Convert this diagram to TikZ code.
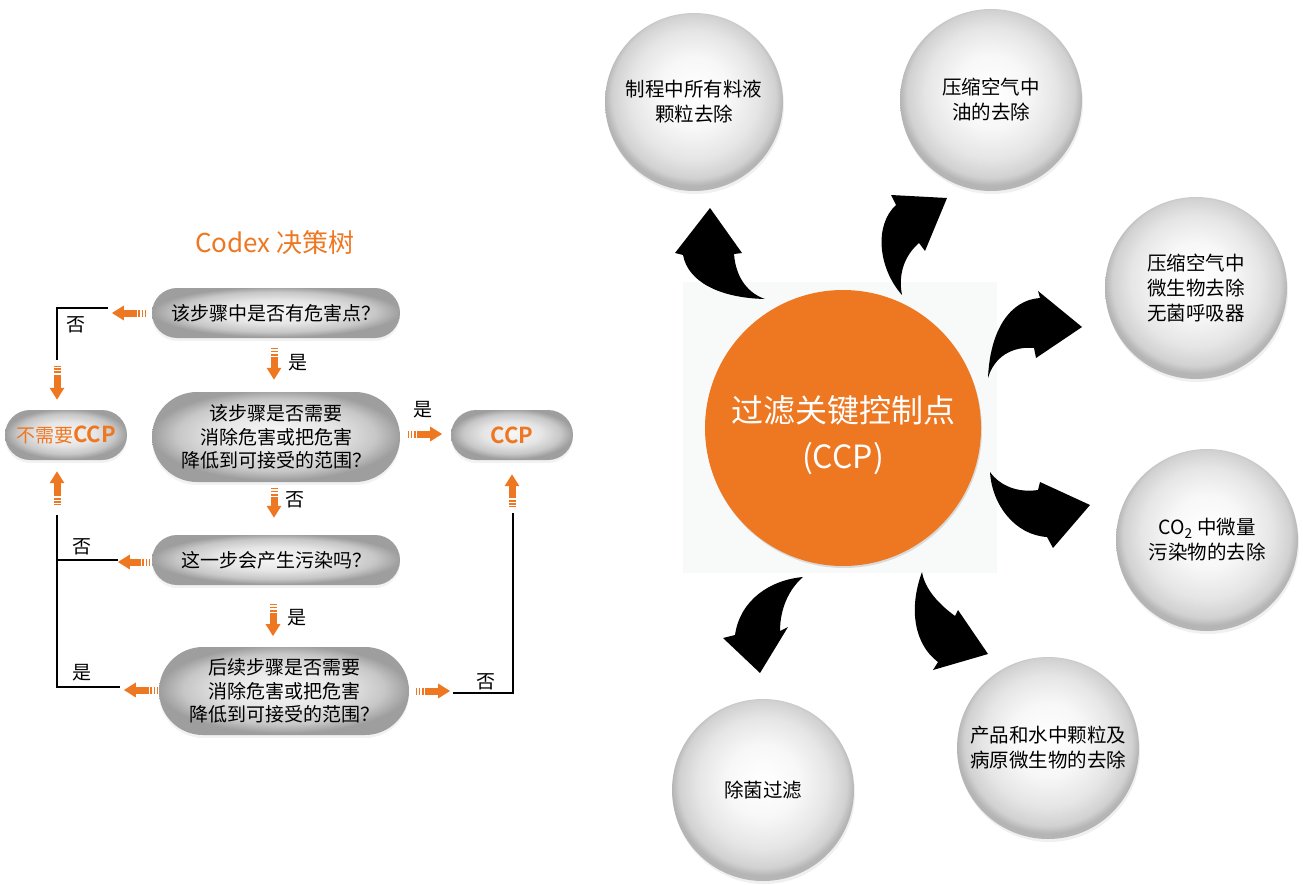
\documentclass[tikz,border=0pt]{standalone}
\usepackage{fontspec}
\setmainfont{Noto Sans CJK SC}[BoldFont={Noto Sans CJK SC Bold}]
\usetikzlibrary{shapes.misc,shadows,arrows.meta}

\definecolor{codexorange}{RGB}{238,119,34}
\definecolor{panelback}{RGB}{248,250,250}
\pgfdeclareradialshading{pillshade}{\pgfpoint{0bp}{2bp}}{color(0bp)=(white!97!black); color(12bp)=(white!90!black); color(20bp)=(white!78!black); color(25bp)=(white!62!black); color(50bp)=(white!62!black)}
\pgfdeclareradialshading{ballshade}{\pgfpoint{0bp}{3bp}}{color(0bp)=(white); color(10bp)=(white!97!black); color(18bp)=(white!90!black); color(23bp)=(white!82!black); color(25bp)=(white!71!black); color(50bp)=(white!71!black)}

\begin{document}
\begin{tikzpicture}[x=1pt,y=-1pt,
  question/.style={rounded rectangle,shade,shading=pillshade,
    minimum width=248pt,minimum height=50pt,align=center,inner sep=0pt,
    font=\fontsize{19}{23.5}\selectfont,
    drop shadow={opacity=0.1,shadow xshift=0pt,shadow yshift=-3pt}},
  answer/.style={question,minimum width=122pt,text=codexorange},
  ball node/.style={circle,shade,shading=ballshade,minimum size=182pt,align=center,inner sep=0pt,
    font=\fontsize{19.5}{25}\selectfont,
    drop shadow={opacity=0.12,shadow xshift=1pt,shadow yshift=-3pt}},
  flow line/.style={line width=1.8pt},
  orange arrow/.style={codexorange,line width=7pt,-{Triangle[width=14pt,length=12pt]},
    dash pattern=on 1.2pt off 1.4pt on 1.6pt off 1.4pt on 2pt off 1.4pt on 40pt off 1pt},
  tag/.style={font=\fontsize{19}{23}\selectfont},
  big arrow/.style={fill=black}]
\useasboundingbox (0,0) rectangle (1303,885);

% decision tree
\node[text=codexorange,font=\fontsize{26}{30}\selectfont] (title) at (275,243) {Codex 决策树};
\node[question] (q1) at (276,313) {该步骤中是否有危害点？};
\node[question,minimum height=90pt] (q2) at (276,437) {该步骤是否需要\\消除危害或把危害\\降低到可接受的范围？};
\node[question] (q3) at (276,560) {这一步会产生污染吗？};
\node[question,minimum height=88pt,minimum width=250pt] (q4) at (284,691) {后续步骤是否需要\\消除危害或把危害\\降低到可接受的范围？};
\node[answer] (noccp) at (66,435) {不需要{\fontsize{22}{24}\selectfont\bfseries CCP}};
\node[answer] (isccp) at (512,435) {\fontsize{22}{24}\selectfont\bfseries CCP};

\draw[orange arrow] ([xshift=-6pt]q1.west) -- ([xshift=-40pt]q1.west);
\draw[orange arrow] ([xshift=-2pt,yshift=-10pt]q1.south) -- ([xshift=-2pt,yshift=12pt]q2.north);
\draw[orange arrow] ([xshift=-9pt,yshift=44pt]noccp.north) -- ([xshift=-9pt,yshift=10pt]noccp.north);
\draw[orange arrow] ([xshift=8pt,yshift=3pt]q2.east) -- ([xshift=42pt,yshift=3pt]q2.east);
\draw[orange arrow] ([xshift=-9pt,yshift=-45pt]noccp.south) -- ([xshift=-9pt,yshift=-11pt]noccp.south);
\draw[orange arrow] ([xshift=-2pt,yshift=-6pt]q2.south) -- ([xshift=-2pt,yshift=17pt]q3.north);
\draw[orange arrow] ([xshift=-2pt,yshift=-2pt]q3.west) -- ([xshift=-34pt,yshift=-2pt]q3.west);
\draw[orange arrow] ([xshift=-3pt,yshift=-19pt]q3.south) -- ([xshift=-3pt,yshift=-51pt]q3.south);
\draw[orange arrow] ([xshift=-1pt,yshift=1pt]q4.west) -- ([xshift=-35pt,yshift=1pt]q4.west);
\draw[orange arrow] ([xshift=7pt]q4.east) -- ([xshift=41pt]q4.east);
\draw[orange arrow] ([yshift=-47pt]isccp.south) -- ([yshift=-14pt]isccp.south);

\coordinate (n1) at (108,308);
\coordinate (n2) at (57,360);
\coordinate (n3) at (57,515);
\coordinate (n4) at (120,687);
\coordinate (n5) at (118,560);
\coordinate (n6) at (453,693);
\coordinate (n7) at (513,513);
\draw[flow line] (n1) -| (n2);
\draw[flow line] (n3) |- (n4);
\draw[flow line] (n5) -- (n5 -| n3);
\draw[flow line] (n6) -| (n7);

\node[tag] (t1) at (76,325) {否};
\node[tag] (t2) at (298,363) {是};
\node[tag] (t3) at (423,410) {是};
\node[tag] (t4) at (295,500) {否};
\node[tag] (t5) at (82,547) {否};
\node[tag] (t6) at (297,618) {是};
\node[tag] (t7) at (82,673) {是};
\node[tag] (t8) at (486,682) {否};

% critical control point and its six uses
\fill[panelback] (683,282) rectangle (997,573);
\node[circle,fill=codexorange,minimum size=276pt,text=white,
  font=\fontsize{32}{46}\selectfont,
  drop shadow={opacity=0.25,shadow xshift=1pt,shadow yshift=-2pt}] (ccp) at (843,428)
  {\raisebox{-15pt}[0pt][0pt]{\begin{tabular}{@{}c@{}}过滤关键控制点\\(CCP)\end{tabular}}};

\node[ball node,minimum size=178pt] (s1) at (694,102) {制程中所有料液\\颗粒去除};
\node[ball node] (s2) at (991,100) {压缩空气中\\油的去除};
\node[ball node] (s3) at (1196,288) {压缩空气中\\微生物去除\\无菌呼吸器};
\node[ball node] (s4) at (1207,540) {CO\textsubscript{2} 中微量\\污染物的去除};
\node[ball node] (s5) at (1048,748) {产品和水中颗粒及\\病原微生物的去除};
\node[ball node] (s6) at (763,790) {除菌过滤};

\fill[big arrow] (765,299) .. controls (720,298) and (688,282) .. (683,255) -- (675,253) -- (710,208) -- (742,253) -- (734,254) .. controls (736,280) and (750,294) .. (765,299) -- cycle;
\fill[big arrow] (902,295) .. controls (878,268) and (874,225) .. (896,205) -- (891,195) -- (947,198) -- (925,251) -- (919,243) .. controls (904,256) and (898,275) .. (902,295) -- cycle;
\fill[big arrow] (988,378) .. controls (990,330) and (1010,300) .. (1040,298) -- (1038,291) -- (1082,327) -- (1036,358) -- (1034,348) .. controls (1012,346) and (994,357) .. (988,378) -- cycle;
\fill[big arrow] (990,472) .. controls (992,505) and (1015,535) .. (1047,537) -- (1053,548) -- (1090,505) -- (1040,482) -- (1038,490) .. controls (1018,493) and (1000,486) .. (990,472) -- cycle;
\fill[big arrow] (803,577) .. controls (770,580) and (740,600) .. (735,635) -- (723,638) -- (760,673) -- (788,627) -- (780,631) .. controls (780,610) and (788,590) .. (803,577) -- cycle;
\fill[big arrow] (922,572) .. controls (908,610) and (915,645) .. (938,662) -- (933,670) -- (988,654) -- (958,610) -- (955,616) .. controls (940,605) and (925,590) .. (922,572) -- cycle;
\end{tikzpicture}
\end{document}
